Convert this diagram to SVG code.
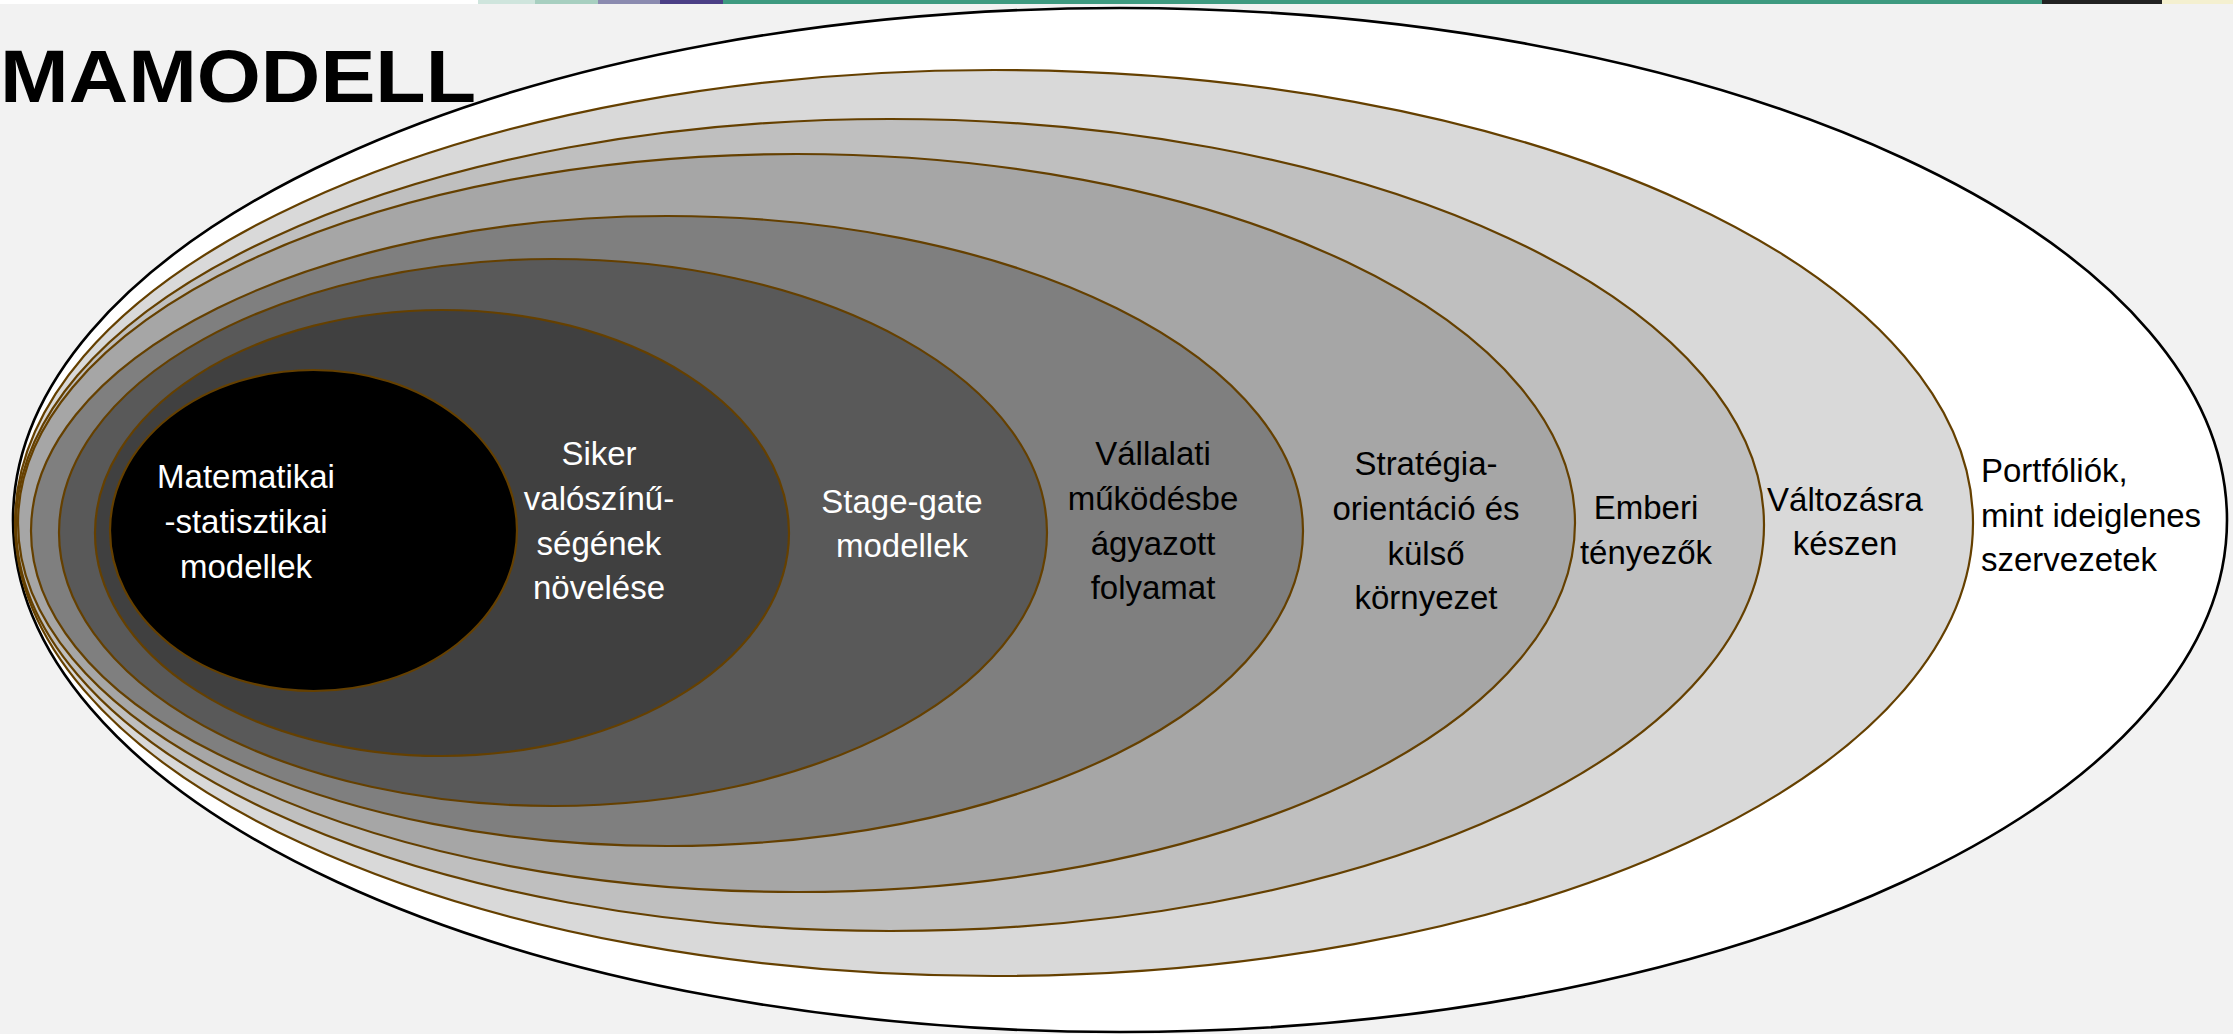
<svg xmlns="http://www.w3.org/2000/svg" width="2233" height="1034" viewBox="0 0 2233 1034">
<style>
.ring{stroke:#654000;stroke-width:2.2}
.lbl{font-family:"Liberation Sans",Arial,sans-serif;font-size:33px;text-anchor:middle}
.w{fill:#ffffff}
.b{fill:#000000}
.title{font-family:"Liberation Sans",Arial,sans-serif;font-size:75px;font-weight:bold;fill:#000}
</style>
<rect x="0" y="0" width="2233" height="1034" fill="#f2f2f2"/>
<g id="topstrip">
<rect x="0" y="0" width="478" height="4" fill="#ffffff"/>
<rect x="478" y="0" width="57" height="4" fill="#cfe5dd"/>
<rect x="535" y="0" width="63" height="4" fill="#a7cfc0"/>
<rect x="598" y="0" width="62" height="4" fill="#8b8bb0"/>
<rect x="660" y="0" width="63" height="4" fill="#4b3f86"/>
<rect x="723" y="0" width="1319" height="4" fill="#3e9a80"/>
<rect x="2042" y="0" width="120" height="4" fill="#222222"/>
<rect x="2162" y="0" width="71" height="4" fill="#f4f0d0"/>
</g>
<g id="n8-portfoliok">
<ellipse cx="1120" cy="520" rx="1107" ry="512" fill="#ffffff" stroke="#000" stroke-width="2.6"/>
<text class="lbl b" style="text-anchor:start" x="1981"><tspan x="1981" y="482">Portfóliók,</tspan><tspan x="1981" y="527">mint ideiglenes</tspan><tspan x="1981" y="571">szervezetek</tspan></text>
</g>
<g id="n7-valtozasra">
<ellipse class="ring" cx="994" cy="523" rx="979" ry="453" fill="#d9d9d9" stroke-width="1.8"/>
<text class="lbl b"><tspan x="1845" y="511">Változásra</tspan><tspan x="1845" y="555">készen</tspan></text>
</g>
<g id="n6-emberi">
<ellipse class="ring" cx="890" cy="525" rx="874" ry="406" fill="#bfbfbf"/>
<text class="lbl b"><tspan x="1646" y="519">Emberi</tspan><tspan x="1646" y="564">tényezők</tspan></text>
</g>
<g id="n5-strategia">
<ellipse class="ring" cx="796.5" cy="523" rx="778.5" ry="369" fill="#a6a6a6"/>
<text class="lbl b"><tspan x="1426" y="475">Stratégia-</tspan><tspan x="1426" y="520">orientáció és</tspan><tspan x="1426" y="565">külső</tspan><tspan x="1426" y="609">környezet</tspan></text>
</g>
<g id="n4-vallalati">
<ellipse class="ring" cx="667" cy="531" rx="636" ry="315" fill="#7f7f7f"/>
<text class="lbl b"><tspan x="1153" y="465">Vállalati</tspan><tspan x="1153" y="510">működésbe</tspan><tspan x="1153" y="555">ágyazott</tspan><tspan x="1153" y="599">folyamat</tspan></text>
</g>
<g id="n3-stagegate">
<ellipse class="ring" cx="553" cy="532.5" rx="494" ry="273.5" fill="#595959"/>
<text class="lbl w"><tspan x="902" y="513">Stage-gate</tspan><tspan x="902" y="557">modellek</tspan></text>
</g>
<g id="n2-siker">
<ellipse class="ring" cx="442" cy="533" rx="347" ry="223" fill="#404040"/>
<text class="lbl w"><tspan x="599" y="465">Siker</tspan><tspan x="599" y="510">valószínű-</tspan><tspan x="599" y="555">ségének</tspan><tspan x="599" y="599">növelése</tspan></text>
</g>
<g id="n1-matematikai">
<ellipse class="ring" cx="313.5" cy="530.5" rx="203.5" ry="160.5" fill="#000000"/>
<text class="lbl w"><tspan x="246" y="488">Matematikai</tspan><tspan x="246" y="533">-statisztikai</tspan><tspan x="246" y="578">modellek</tspan></text>
</g>
<g id="title">
<text class="title" x="0" y="102" textLength="476" lengthAdjust="spacingAndGlyphs">MAMODELL</text>
</g>
</svg>
